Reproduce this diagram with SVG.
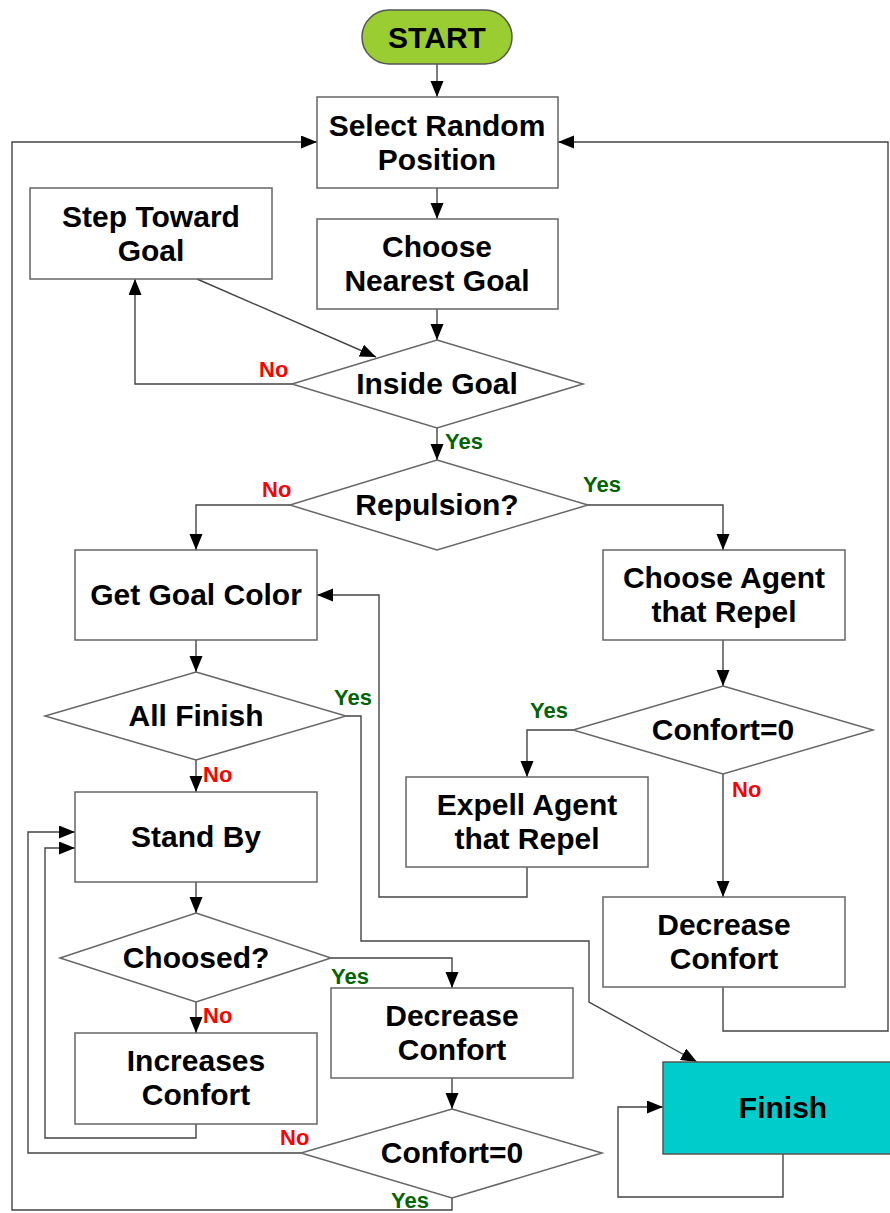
<svg xmlns="http://www.w3.org/2000/svg" width="890" height="1213" viewBox="0 0 890 1213">
<style>
.box{fill:#fff;stroke:#666;stroke-width:1.5}
.t{font-family:"Liberation Sans",Arial,sans-serif;font-weight:bold;font-size:30px;fill:#000;text-anchor:middle}
.c{fill:none;stroke:#444;stroke-width:1.4}
.no{font-family:"Liberation Sans",Arial,sans-serif;font-weight:bold;font-size:22px;fill:#f00}
.yes{font-family:"Liberation Sans",Arial,sans-serif;font-weight:bold;font-size:22px;fill:#006400}
</style>
<defs>
<marker id="ah" markerUnits="userSpaceOnUse" markerWidth="17" markerHeight="14" refX="16" refY="6.5" orient="auto">
<path d="M0,0 L16,6.5 L0,13 z" fill="#000"/>
</marker>
</defs>
<rect width="890" height="1213" fill="#fff"/>
<g id="connectors">
<path class="c" d="M437,64 V97" marker-end="url(#ah)"/>
<path class="c" d="M437,188 V219" marker-end="url(#ah)"/>
<path class="c" d="M437,309 V340" marker-end="url(#ah)"/>
<path class="c" d="M197,279 L376,357" marker-end="url(#ah)"/>
<path class="c" d="M292,384 H135 V279" marker-end="url(#ah)"/>
<path class="c" d="M437,428 V460" marker-end="url(#ah)"/>
<path class="c" d="M290,505 H196 V550" marker-end="url(#ah)"/>
<path class="c" d="M588,505 H723 V550" marker-end="url(#ah)"/>
<path class="c" d="M196,640 V672" marker-end="url(#ah)"/>
<path class="c" d="M346,716 H361 V941 H589 V1002 L697,1062" marker-end="url(#ah)"/>
<path class="c" d="M196,760 V792" marker-end="url(#ah)"/>
<path class="c" d="M196,882 V913" marker-end="url(#ah)"/>
<path class="c" d="M331,958 H452 V988" marker-end="url(#ah)"/>
<path class="c" d="M196,1002 V1033" marker-end="url(#ah)"/>
<path class="c" d="M196,1124 V1138 H45 V848 H75" marker-end="url(#ah)"/>
<path class="c" d="M452,1078 V1109" marker-end="url(#ah)"/>
<path class="c" d="M301,1153 H28 V832 H75" marker-end="url(#ah)"/>
<path class="c" d="M452,1198 V1210 H12 V142 H317" marker-end="url(#ah)"/>
<path class="c" d="M723,640 V686" marker-end="url(#ah)"/>
<path class="c" d="M573,730 H527 V777" marker-end="url(#ah)"/>
<path class="c" d="M723,774 V897" marker-end="url(#ah)"/>
<path class="c" d="M527,867 V897 H379 V595 H317" marker-end="url(#ah)"/>
<path class="c" d="M723,987 V1031 H888 V142 H558" marker-end="url(#ah)"/>
<path class="c" d="M783,1154 V1197 H618 V1107 H663" marker-end="url(#ah)"/>
</g>
<g id="labels">
<text class="no" x="259" y="377">No</text>
<text class="yes" x="445" y="449">Yes</text>
<text class="no" x="262" y="497">No</text>
<text class="yes" x="583" y="492">Yes</text>
<text class="yes" x="334" y="705">Yes</text>
<text class="no" x="203" y="782">No</text>
<text class="yes" x="530" y="718">Yes</text>
<text class="no" x="732" y="797">No</text>
<text class="yes" x="331" y="984">Yes</text>
<text class="no" x="203" y="1023">No</text>
<text class="no" x="280" y="1145">No</text>
<text class="yes" x="391" y="1208">Yes</text>
</g>
<g id="start">
<rect x="362" y="10" width="150" height="54" rx="27" fill="#9acd32" stroke="#555" stroke-width="1.5"/>
<text class="t" x="437" y="48">START</text>
</g>
<g id="select">
<rect class="box" x="317" y="97" width="241" height="91"/>
<text class="t" x="437" y="136">Select Random</text>
<text class="t" x="437" y="170">Position</text>
</g>
<g id="step">
<rect class="box" x="30" y="188" width="242" height="91"/>
<text class="t" x="151" y="227">Step Toward</text>
<text class="t" x="151" y="261">Goal</text>
</g>
<g id="nearest">
<rect class="box" x="317" y="219" width="241" height="90"/>
<text class="t" x="437" y="257">Choose</text>
<text class="t" x="437" y="291">Nearest Goal</text>
</g>
<g id="inside">
<polygon class="box" points="437,340 583,384 437,428 292,384"/>
<text class="t" x="437" y="394">Inside Goal</text>
</g>
<g id="repulsion">
<polygon class="box" points="437,460 588,505 437,550 290,505"/>
<text class="t" x="437" y="515">Repulsion?</text>
</g>
<g id="getcolor">
<rect class="box" x="75" y="550" width="242" height="90"/>
<text class="t" x="196" y="605">Get Goal Color</text>
</g>
<g id="chooseagent">
<rect class="box" x="603" y="550" width="242" height="90"/>
<text class="t" x="724" y="588">Choose Agent</text>
<text class="t" x="724" y="622">that Repel</text>
</g>
<g id="allfinish">
<polygon class="box" points="196,672 346,716 196,760 45,716"/>
<text class="t" x="196" y="726">All Finish</text>
</g>
<g id="confortR">
<polygon class="box" points="723,686 873,730 723,774 573,730"/>
<text class="t" x="723" y="740">Confort=0</text>
</g>
<g id="expell">
<rect class="box" x="406" y="777" width="242" height="90"/>
<text class="t" x="527" y="815">Expell Agent</text>
<text class="t" x="527" y="849">that Repel</text>
</g>
<g id="standby">
<rect class="box" x="75" y="792" width="242" height="90"/>
<text class="t" x="196" y="847">Stand By</text>
</g>
<g id="decreaseR">
<rect class="box" x="603" y="897" width="242" height="90"/>
<text class="t" x="724" y="935">Decrease</text>
<text class="t" x="724" y="969">Confort</text>
</g>
<g id="choosed">
<polygon class="box" points="196,913 331,958 196,1002 60,958"/>
<text class="t" x="196" y="968">Choosed?</text>
</g>
<g id="decreaseL">
<rect class="box" x="331" y="988" width="242" height="90"/>
<text class="t" x="452" y="1026">Decrease</text>
<text class="t" x="452" y="1060">Confort</text>
</g>
<g id="increases">
<rect class="box" x="75" y="1033" width="242" height="91"/>
<text class="t" x="196" y="1071">Increases</text>
<text class="t" x="196" y="1105">Confort</text>
</g>
<g id="confortB">
<polygon class="box" points="452,1109 602,1153 452,1198 301,1153"/>
<text class="t" x="452" y="1163">Confort=0</text>
</g>
<g id="finish">
<rect x="663" y="1062" width="240" height="92" fill="#00cccc" stroke="#555" stroke-width="1.5"/>
<text class="t" x="783" y="1118">Finish</text>
</g>
</svg>
